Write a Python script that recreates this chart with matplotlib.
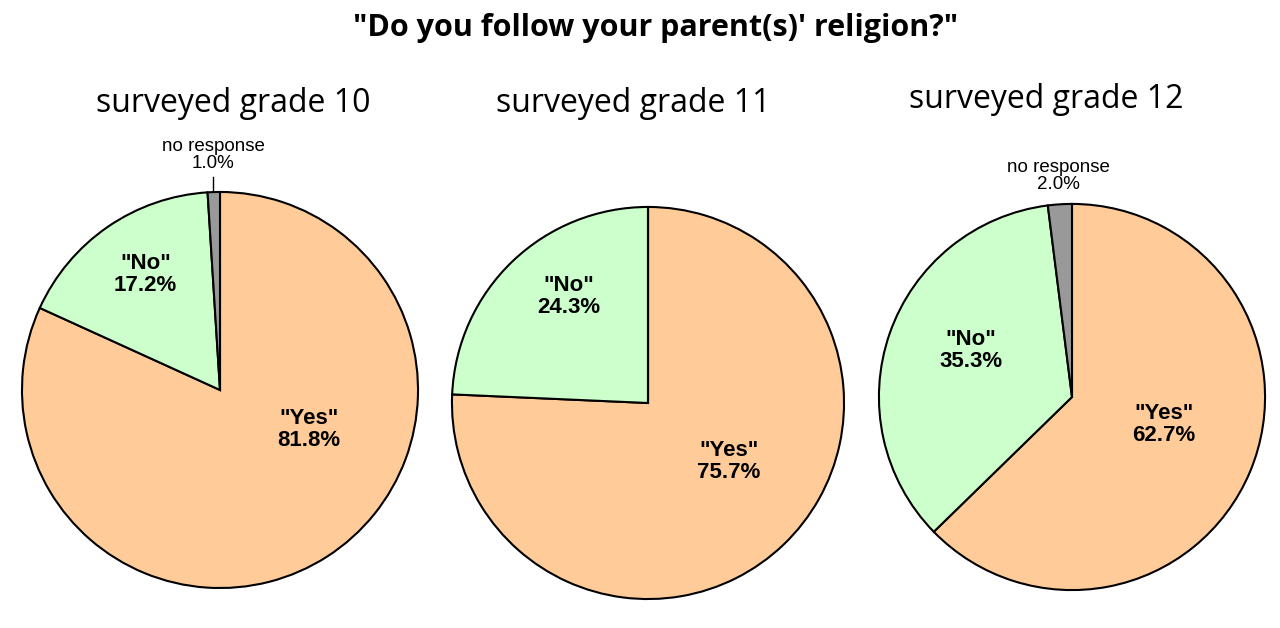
import matplotlib
matplotlib.use('Agg')
import matplotlib.pyplot as plt

# data
grades = ['surveyed grade 10', 'surveyed grade 11', 'surveyed grade 12']
answers = ['"Yes"', '"No"', 'no response']
yes_pct = [81.8, 75.7, 62.7]
no_pct = [17.2, 24.3, 35.3]
nr_pct = [1.0, 0.0, 2.0]
colors = ['#FFCC99', '#CCFFCC', '#999999']

W, H = 1280, 628
# pie centres / radii in pixels (x, y from top, r)
pies = [(220, 390, 200), (648, 403, 198), (1072, 397, 195)]
# subtitle positions in pixels
sub_pos = [(233, 103), (633, 103), (1046, 99)]
# label positions (fraction of radius, relative to centre)
yes_lab = [(0.45, -0.20), (0.414, -0.298), (0.477, -0.144)]
no_lab = [(-0.375, 0.585), (-0.404, 0.545), (-0.523, 0.241)]

fig = plt.figure(figsize=(W / 100, H / 100), dpi=100)
fig.text(0.512, 1 - 28 / H, '"Do you follow your parent(s)\' religion?"',
         ha='center', va='center', fontsize=22, fontweight='bold',
         family='Open Sans')

for i in range(3):
    cx, cy, r = pies[i]
    ax = fig.add_axes([(cx - r) / W, 1 - (cy + r) / H, 2 * r / W, 2 * r / H])
    vals = [yes_pct[i], no_pct[i], nr_pct[i]]
    ax.pie(vals, colors=colors, startangle=90, counterclock=False,
           wedgeprops=dict(edgecolor='black', linewidth=1.5))
    ax.set_xlim(-1.01, 1.01)
    ax.set_ylim(-1.01, 1.01)
    ax.set_aspect('equal')
    ax.axis('off')

    ax.text(yes_lab[i][0], yes_lab[i][1], '%s\n%.1f%%' % (answers[0], yes_pct[i]),
            ha='center', va='center', fontsize=16, fontweight='bold',
            family='Liberation Sans', linespacing=1.05)
    ax.text(no_lab[i][0], no_lab[i][1], '%s\n%.1f%%' % (answers[1], no_pct[i]),
            ha='center', va='center', fontsize=16, fontweight='bold',
            family='Liberation Sans', linespacing=1.05)

    fig.text(sub_pos[i][0] / W, 1 - sub_pos[i][1] / H, grades[i],
             ha='center', va='center', fontsize=23, family='Open Sans')

# small "no response" labels
fig.text(213 / W, 1 - 155 / H, 'no response\n%.1f%%' % nr_pct[0], ha='center',
         va='center', fontsize=13.5, family='Liberation Sans', linespacing=1.0)
fig.add_artist(plt.Line2D([213 / W, 213 / W], [1 - 177 / H, 1 - 190 / H],
                          color='black', linewidth=1))
fig.text(1058 / W, 1 - 176 / H, 'no response\n%.1f%%' % nr_pct[2], ha='center',
         va='center', fontsize=13.5, family='Liberation Sans', linespacing=1.0)

fig.savefig('out.png', dpi=100, facecolor='white')
